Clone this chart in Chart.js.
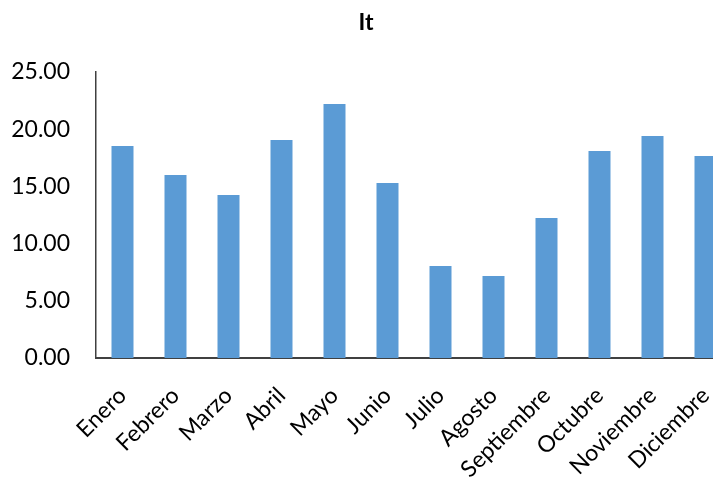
<!DOCTYPE html>
<html>
<head>
<meta charset="utf-8">
<script src="https://cdn.jsdelivr.net/npm/chart.js@4/dist/chart.umd.min.js"></script>
<style>
html,body{margin:0;padding:0;overflow:hidden;background:#fff;}
#wrap{width:750px;height:479px;position:relative;}
</style>
</head>
<body>
<div id="wrap"><canvas id="c"></canvas></div>
<script>
const categories = ["Enero","Febrero","Marzo","Abril","Mayo","Junio","Julio","Agosto","Septiembre","Octubre","Noviembre","Diciembre"];
const itValues = [18.53, 16.0, 14.25, 19.06, 22.2, 15.3, 8.04, 7.17, 12.24, 18.1, 19.4, 17.66];
const yTicks = [0, 5, 10, 15, 20, 25];

const FONT = "Lato, 'Open Sans', sans-serif";
new Chart(document.getElementById('c'), {
  type: 'bar',
  data: {
    labels: categories,
    datasets: [{
      label: 'It',
      data: itValues,
      backgroundColor: '#5B9BD5',
      borderWidth: 0,
      categoryPercentage: 1.0,
      barPercentage: 0.415
    }]
  },
  options: {
    responsive: true,
    maintainAspectRatio: false,
    animation: false,
    layout: { padding: { left: 0, right: 18, top: 0, bottom: 0 } },
    plugins: {
      legend: { display: false },
      tooltip: { enabled: false },
      title: {
        display: true,
        text: 'It',
        color: '#000',
        font: { family: FONT, size: 23, weight: 'bold' },
        padding: { top: 9, bottom: 35.4 }
      }
    },
    scales: {
      x: {
        grid: { display: false, drawTicks: false },
        border: { display: true, color: '#404040', width: 2 },
        ticks: {
          color: '#000',
          font: { family: FONT, size: 23 },
          maxRotation: 45, minRotation: 45,
          autoSkip: false,
          padding: 24
        },
        afterFit: (s) => { s.height = 121; }
      },
      y: {
        min: 0, max: 25,
        afterBuildTicks: (s) => { s.ticks = yTicks.map(v => ({ value: v })); },
        grid: { display: false, drawTicks: false },
        border: { display: true, color: '#404040', width: 1.5 },
        ticks: {
          color: '#000',
          font: { family: FONT, size: 23 },
          padding: 26,
          callback: (v) => Number(v).toFixed(2)
        },
        afterFit: (s) => { s.width = 96; }
      }
    }
  }
});
</script>
</body>
</html>
